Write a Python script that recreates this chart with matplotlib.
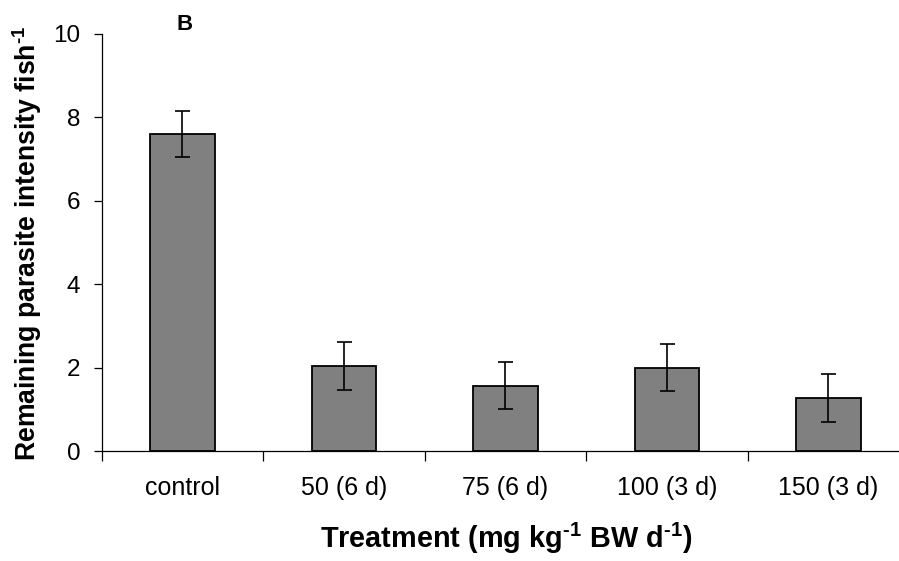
import matplotlib
matplotlib.use("Agg")
import matplotlib.pyplot as plt
import numpy as np

categories = ["control", "50 (6 d)", "75 (6 d)", "100 (3 d)", "150 (3 d)"]
means = [7.60, 2.04, 1.57, 2.00, 1.28]
errors = [0.56, 0.58, 0.56, 0.56, 0.58]
yticks = [0, 2, 4, 6, 8, 10]

plt.rcParams['font.family'] = ['Liberation Sans', 'DejaVu Sans']
plt.rcParams['mathtext.fontset'] = 'custom'
plt.rcParams['mathtext.default'] = 'regular'

fig = plt.figure(figsize=(8.99, 5.61), dpi=100)
ax = fig.add_axes([101.7/899, 1-451.3/561, (909-101.7)/899, (451.3-33.7)/561])

x = np.arange(len(categories))
ax.bar(x, means, width=0.40, color='#808080', edgecolor='black', linewidth=1.3, zorder=2)
ax.errorbar(x, means, yerr=errors, fmt='none', ecolor='black', elinewidth=1.2,
            capsize=5.4, capthick=1.2, zorder=3)

ax.set_xlim(-0.5, len(categories) - 0.5)
ax.set_ylim(0, 10)
ax.set_yticks(yticks)
ax.set_yticklabels([str(t) for t in yticks])

ax.set_xticks(np.arange(len(categories) + 1) - 0.5)
ax.set_xticklabels([])
ax.set_xticks(x, minor=True)
ax.set_xticklabels(categories, minor=True)
ax.tick_params(axis='x', which='major', direction='out', length=7, width=0.9)
ax.tick_params(axis='x', which='minor', length=0, pad=18, labelsize=18)
ax.tick_params(axis='y', direction='out', length=6, width=0.9, labelsize=17.5, pad=9.5)

for s in ['top', 'right']:
    ax.spines[s].set_visible(False)
for s in ['left', 'bottom']:
    ax.spines[s].set_linewidth(0.9)

hy = '\u2010'
fig.text(27/899, 1-243/561, 'Remaining parasite intensity fish$^{' + hy + '1}$',
         fontsize=19.2, fontweight='bold', rotation=90, ha='center', va='center')
fig.text(506.5/899, 1-548/561, 'Treatment (mg kg$^{' + hy + '1}$ BW d$^{' + hy + '1}$)',
         fontsize=20.8, fontweight='bold', ha='center', va='baseline')

fig.text(185/899, 1-24/561, 'B', fontsize=16, fontweight='bold', ha='center', va='center')

fig.savefig('out.png', dpi=100)
